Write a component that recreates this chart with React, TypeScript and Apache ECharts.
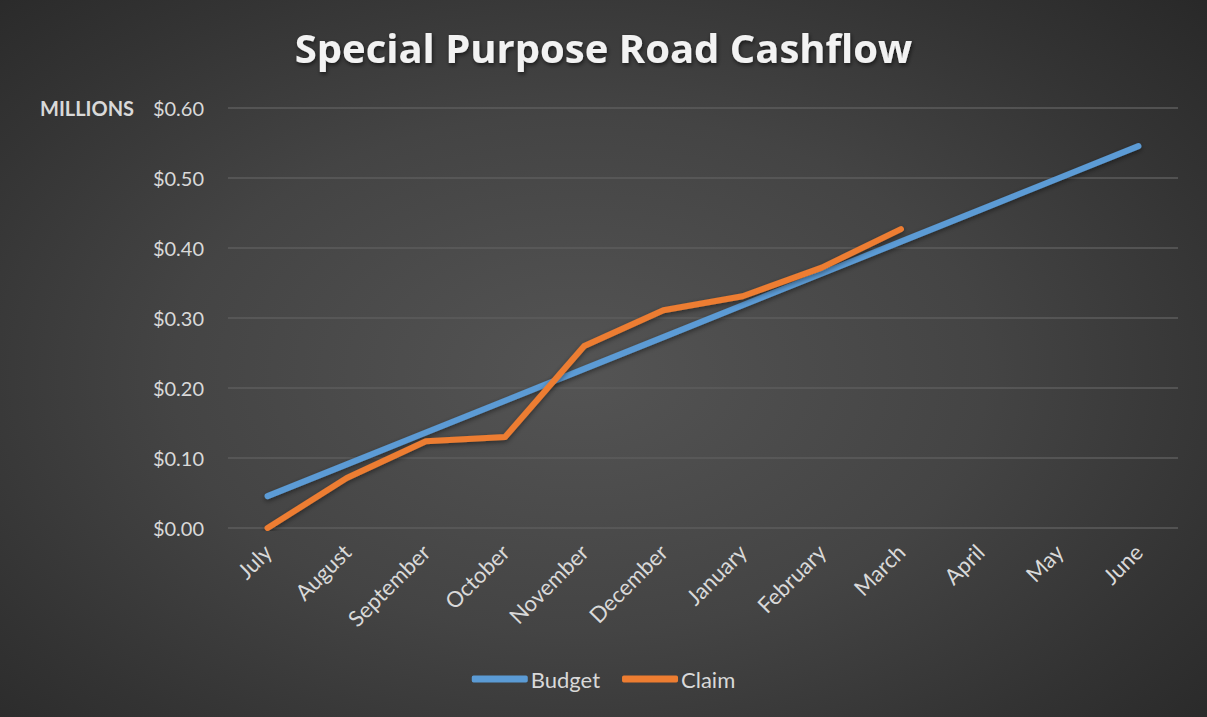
import React, { useEffect, useRef } from "react";
import * as echarts from "echarts";

const months = ["July", "August", "September", "October", "November", "December", "January", "February", "March", "April", "May", "June"];
const budget = [0.0455, 0.0909, 0.1364, 0.1818, 0.2273, 0.2727, 0.3182, 0.3636, 0.4091, 0.4545, 0.5, 0.5455];
const claim = [0.0, 0.0714, 0.124, 0.13, 0.26, 0.311, 0.331, 0.372, 0.427];
const yTicks = [0, 0.1, 0.2, 0.3, 0.4, 0.5, 0.6];

const FONT = "Lato, 'Open Sans', sans-serif";

export default function App() {
  const ref = useRef<HTMLDivElement>(null);
  useEffect(() => {
    document.body.style.margin = "0";
    const chart = echarts.init(ref.current!, null, { renderer: "svg" });
    const lineStyle = (color: string) => ({
      color,
      width: 6,
      cap: "round" as const,
      join: "round" as const,
      shadowColor: "rgba(0,0,0,0.45)",
      shadowBlur: 5,
      shadowOffsetY: 2,
    });
    chart.setOption({
      animation: false,
      title: {
        text: "Special Purpose Road Cashflow",
        left: "center",
        top: 22,
        textStyle: {
          color: "#f2f2f2",
          fontFamily: "'Open Sans', sans-serif",
          fontWeight: "bold",
          fontSize: 40,
          textShadowColor: "rgba(0,0,0,0.6)",
          textShadowBlur: 4,
          textShadowOffsetX: 1,
          textShadowOffsetY: 2,
        },
      },
      graphic: [
        {
          type: "text",
          left: 40,
          top: 98,
          style: {
            text: "MILLIONS",
            fill: "#d9d9d9",
            font: `bold 20px ${FONT}`,
          },
        },
      ],
      legend: {
        bottom: 22,
        left: "center",
        icon: "roundRect",
        itemWidth: 56,
        itemHeight: 7,
        itemGap: 22,
        textStyle: { color: "#d9d9d9", fontSize: 22, fontFamily: FONT, padding: [0, 0, 0, -2] },
        data: ["Budget", "Claim"],
      },
      grid: { left: 228, right: 29, top: 108, bottom: 189 },
      xAxis: {
        type: "category",
        data: months,
        boundaryGap: true,
        axisLine: { show: false },
        axisTick: { show: false },
        axisLabel: {
          rotate: 45,
          color: "#d9d9d9",
          fontSize: 22,
          fontFamily: FONT,
          margin: 20,
          interval: 0,
        },
      },
      yAxis: {
        type: "value",
        min: 0,
        max: 0.6,
        interval: 0.1,
        axisLine: { show: false },
        axisTick: { show: false },
        splitLine: { lineStyle: { color: "#5c5c5c", width: 1.5 } },
        axisLabel: {
          color: "#d9d9d9",
          fontSize: 20,
          fontFamily: FONT,
          margin: 24,
          formatter: (v: number) => (yTicks.some((t) => Math.abs(t - v) < 1e-9) ? "$" + v.toFixed(2) : ""),
        },
      },
      series: [
        {
          name: "Budget",
          type: "line",
          data: budget,
          symbol: "none",
          color: "#5b9bd5",
          lineStyle: lineStyle("#5b9bd5"),
        },
        {
          name: "Claim",
          type: "line",
          data: claim,
          symbol: "none",
          color: "#ed7d31",
          lineStyle: lineStyle("#ed7d31"),
        },
      ],
    });
    return () => chart.dispose();
  }, []);
  return (
    <div
      ref={ref}
      style={{
        width: 1207,
        height: 717,
        background: "radial-gradient(ellipse 75% 80% at 48% 52%, #545454 0%, #444444 45%, #333333 75%, #262626 100%)",
      }}
    />
  );
}
